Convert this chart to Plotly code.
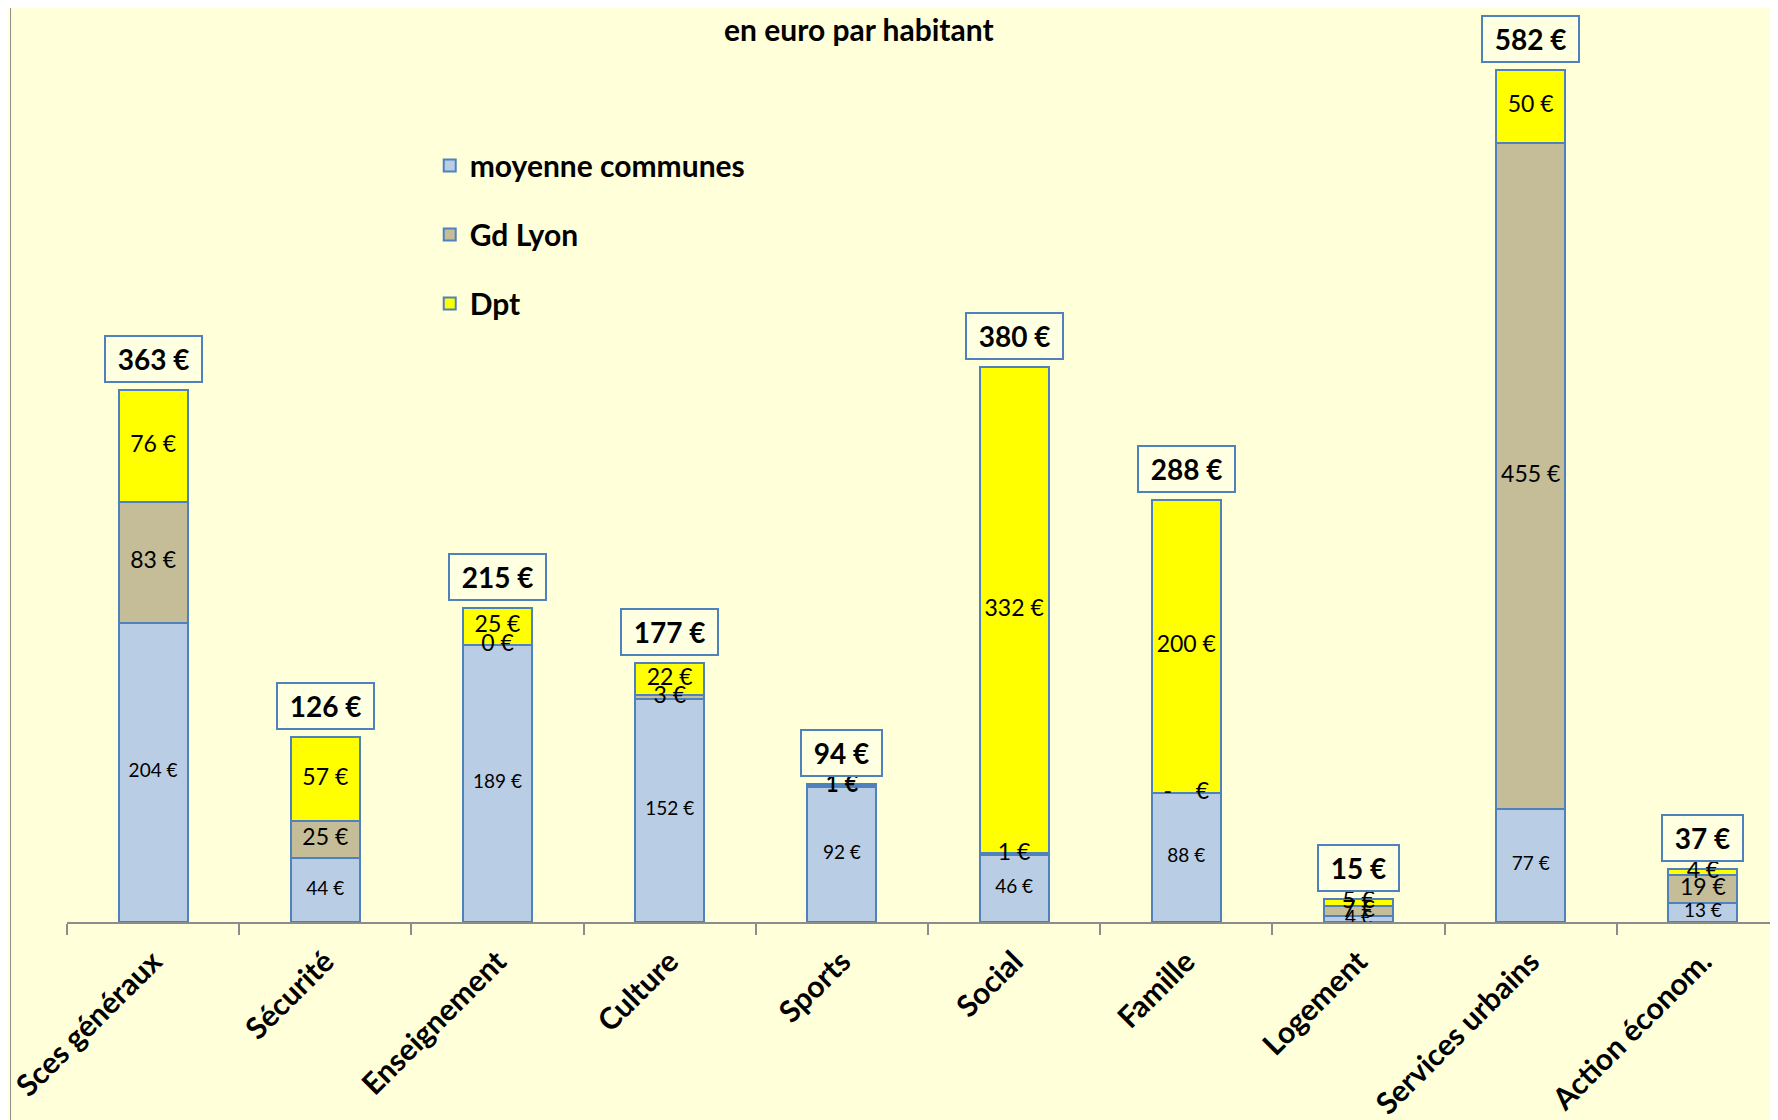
import plotly.graph_objects as go

categories = ["Sces généraux", "Sécurité", "Enseignement", "Culture", "Sports",
              "Social", "Famille", "Logement", "Services urbains", "Action économ."]
moyenne_communes = [204, 44, 189, 152, 92, 46, 88, 4, 77, 13]
gd_lyon = [83, 25, 0.2, 3, 1, 1, 0, 7, 455, 19]
dpt = [76, 57, 25, 22, 1, 332, 200, 5, 50, 4]
totals = [363, 126, 215, 177, 94, 380, 288, 15, 582, 37]
series_names = ["moyenne communes", "Gd Lyon", "Dpt"]
subtitle = "en euro par habitant"

FONT = "Lato"
BG = "#FFFFD9"
EDGE = "#4F81BD"
colors = ["#B9CDE5", "#C4BD97", "#FFFF00"]
label_sizes = [19, 23, 23]


def eur(v):
    if v == 0:
        return "-\u00a0\u00a0\u00a0\u00a0€"
    return f"{round(v)} €"


fig = go.Figure()
series = [moyenne_communes, gd_lyon, dpt]
for name, vals, col in zip(series_names, series, colors):
    fig.add_trace(go.Bar(
        x=categories, y=vals, name=name, legendgroup=name,
        marker=dict(color=col, line=dict(color=EDGE, width=2)),
        width=0.4,
    ))

# segment labels centred in each segment
base = [0] * len(categories)
for name, vals, size in zip(series_names, series, label_sizes):
    mids = [b + v / 2 for b, v in zip(base, vals)]
    fig.add_trace(go.Scatter(
        x=categories, y=mids, mode="text", text=[eur(v) for v in vals],
        textfont=dict(family=FONT, size=size, color="black"),
        showlegend=False, hoverinfo="skip",
    ))
    base = [b + v for b, v in zip(base, vals)]

# total boxes
for cat, top, tot in zip(categories, base, totals):
    fig.add_annotation(
        x=cat, y=top, xref="x", yref="y", yanchor="bottom", yshift=7,
        text=f"\u00a0{tot} €\u00a0", showarrow=False,
        font=dict(family=FONT, size=28, color="black", weight="bold"),
        bordercolor=EDGE, borderwidth=2, borderpad=5, bgcolor="#FFFFE2",
    )

fig.add_annotation(
    x=0.463, y=0.977, xref="paper", yref="paper", yanchor="middle",
    text=subtitle, showarrow=False,
    font=dict(family=FONT, size=30, color="black", weight="bold"),
)

# outer chart border on the left
fig.add_shape(type="line", xref="paper", yref="paper", x0=-0.0330, x1=-0.0330,
              y0=-0.3, y1=1.01, line=dict(color="#8C8C8C", width=1))

fig.update_layout(
    width=1770, height=1112,
    margin=dict(l=57, r=0, t=0, b=189),
    paper_bgcolor=BG, plot_bgcolor=BG,
    barmode="stack", bargap=0.6,
    showlegend=True,
    legend=dict(x=0.212, y=0.856, xanchor="left", yanchor="top",
                traceorder="grouped", tracegroupgap=27,
                font=dict(family=FONT, size=30, color="black", weight="bold"),
                bgcolor="rgba(0,0,0,0)"),
    xaxis=dict(type="category", range=[-0.5, 9.436], showline=True,
               linecolor="#8C8C8C", linewidth=2, ticks="outside",
               tickson="boundaries", ticklen=11, tickcolor="#8C8C8C",
               tickwidth=1.5, tickangle=-45, showgrid=False,
               ticklabelstandoff=8,
               tickfont=dict(family=FONT, size=30, color="black", weight="bold")),
    yaxis=dict(range=[0, 624], visible=False, showgrid=False, zeroline=False),
)

fig.write_html("out.html")
